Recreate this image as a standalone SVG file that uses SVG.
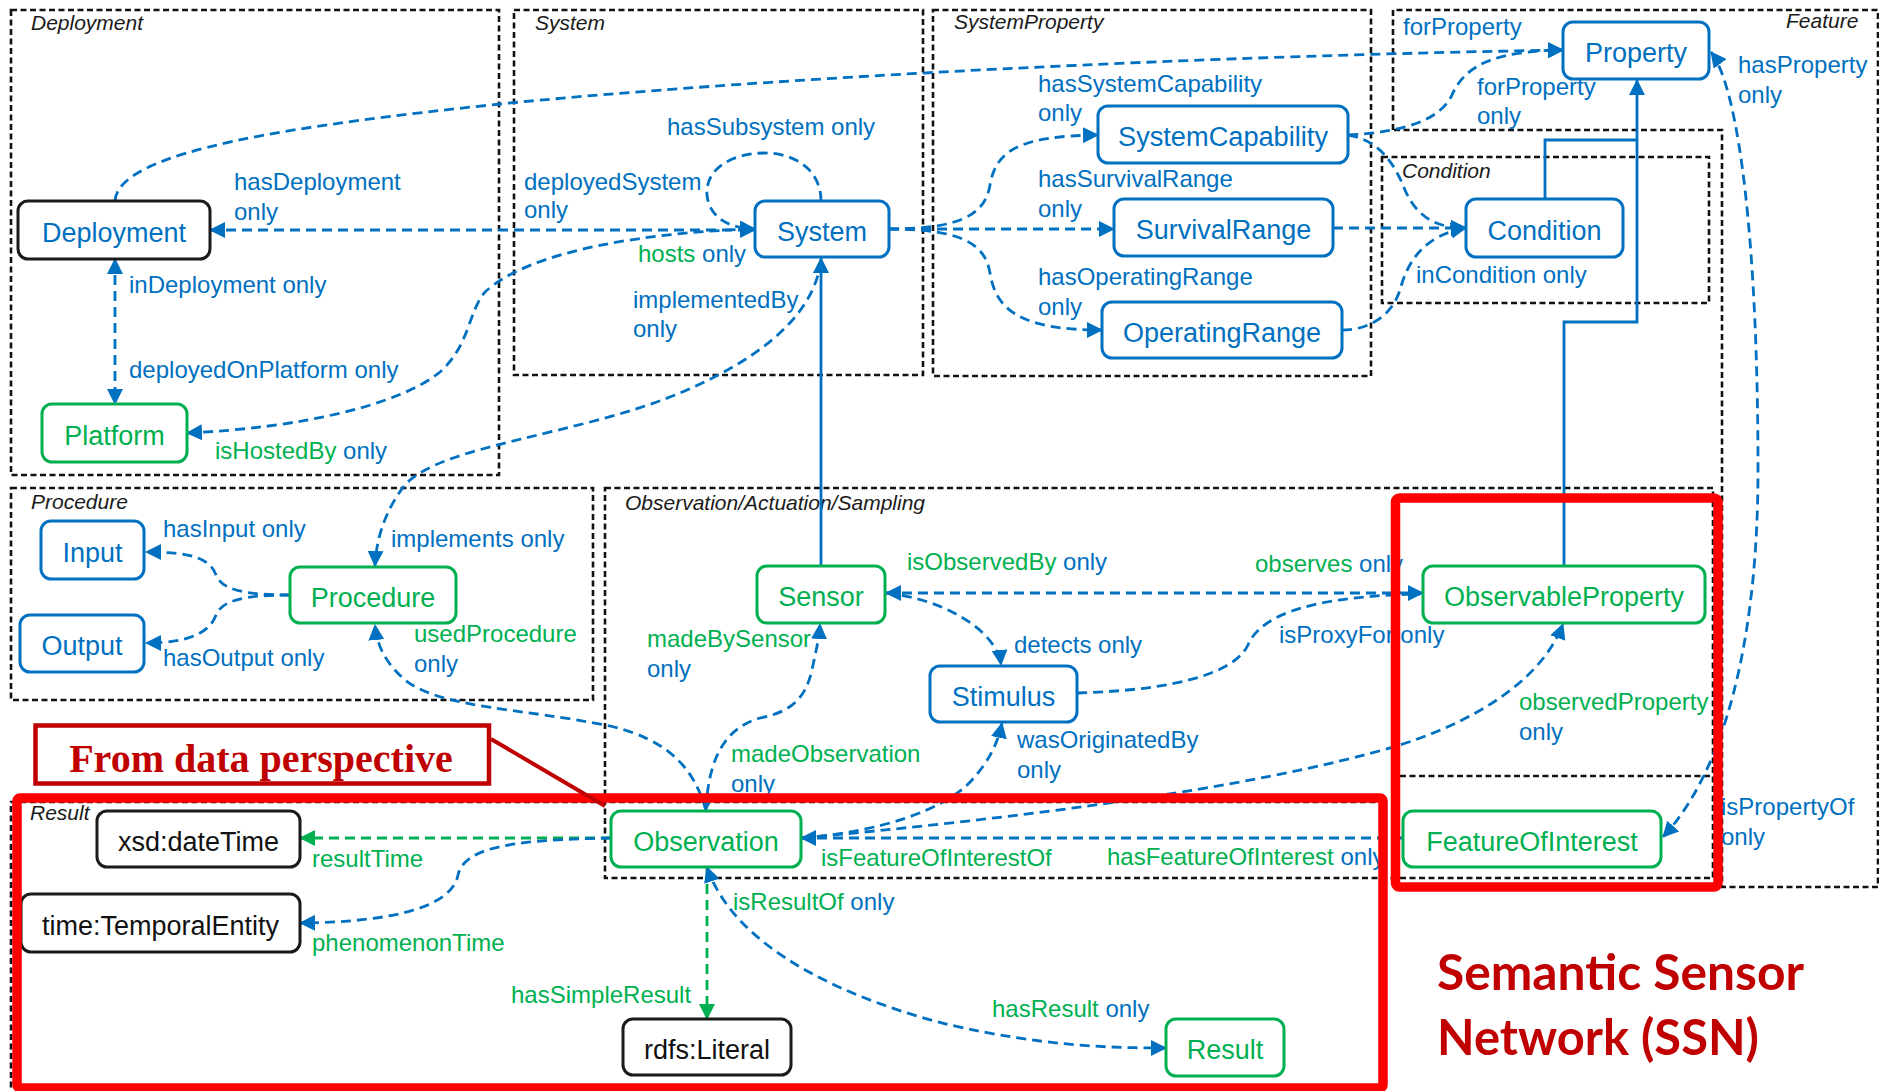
<svg xmlns="http://www.w3.org/2000/svg" width="1879" height="1091" viewBox="0 0 1879 1091">
  <style>
    text { font-family: "Liberation Sans", Arial, sans-serif; }
    .grp { fill: none; stroke: #111; stroke-width: 2.6; stroke-dasharray: 6 3.5; }
    .glabel { font-size: 21px; font-style: italic; fill: #1a1a1a; }
    .node rect { fill: #fff; stroke-width: 3; }
    .nb rect { stroke: #0070C0; }
    .ng rect { stroke: #00B050; }
    .nk rect { stroke: #1a1a1a; }
    .node text { font-size: 27px; text-anchor: middle; }
    .nb text { fill: #0070C0; }
    .ng text { fill: #00B050; }
    .nk text { fill: #111; }
    .lbl { font-size: 24px; fill: #0070C0; }
    .g { fill: #00B050; }
    .bl { fill: #0070C0; }
    .dash { fill: none; stroke: #0070C0; stroke-width: 2.8; stroke-dasharray: 10 6; }
    .gdash { fill: none; stroke: #00B050; stroke-width: 2.8; stroke-dasharray: 10 6; }
    .solid { fill: none; stroke: #0070C0; stroke-width: 2.8; }
    .hl { fill: none; stroke: #FF0000; stroke-width: 9.5; }
  </style>
  <defs>
    <marker id="ab" viewBox="0 0 16 16" refX="15" refY="8" markerWidth="16" markerHeight="16" markerUnits="userSpaceOnUse" orient="auto-start-reverse">
      <path d="M0,0 L16,8 L0,16 z" fill="#0070C0"/>
    </marker>
    <marker id="ag" viewBox="0 0 16 16" refX="15" refY="8" markerWidth="16" markerHeight="16" markerUnits="userSpaceOnUse" orient="auto-start-reverse">
      <path d="M0,0 L16,8 L0,16 z" fill="#00B050"/>
    </marker>
  </defs>
  <rect width="1879" height="1091" fill="#fff"/>

  <!-- module boundaries -->
  <g id="groups">
    <rect class="grp" x="11" y="10" width="488" height="465"/>
    <rect class="grp" x="514" y="10" width="409" height="365"/>
    <rect class="grp" x="933" y="10" width="438" height="366"/>
    <path class="grp" d="M1393,130 V10 H1878 V887 H1722 V130 Z"/>
    <rect class="grp" x="1382" y="157" width="327" height="146"/>
    <rect class="grp" x="11" y="488" width="582" height="212"/>
    <rect class="grp" x="605" y="488" width="1108" height="390"/>
    <path class="grp" d="M1400,776 H1713"/>
    <rect class="grp" x="11" y="802" width="1372" height="286"/>
    <text class="glabel" x="31" y="30">Deployment</text>
    <text class="glabel" x="535" y="30">System</text>
    <text class="glabel" x="954" y="29">SystemProperty</text>
    <text class="glabel" x="1786" y="28">Feature</text>
    <text class="glabel" x="1402" y="178">Condition</text>
    <text class="glabel" x="31" y="509">Procedure</text>
    <text class="glabel" x="625" y="510">Observation/Actuation/Sampling</text>
    <text class="glabel" x="30" y="820">Result</text>
  </g>

  <!-- relations -->
  <g id="connectors">
    <path class="dash" d="M115,201 C118,150 300,125 500,104 C700,84 1100,58 1563,50" marker-end="url(#ab)"/>
    <path class="dash" d="M210,230 L755,230" marker-start="url(#ab)" marker-end="url(#ab)"/>
    <path class="dash" d="M115,259 L115,404" marker-start="url(#ab)" marker-end="url(#ab)"/>
    <path class="dash" d="M187,433 C300,428 400,405 440,372 C470,345 468,312 485,292 C530,250 650,232 755,229" marker-start="url(#ab)" marker-end="url(#ab)"/>
    <path class="dash" d="M821,201 C821,170 795,153 765,153 C730,153 705,170 707,195 C709,215 725,228 755,229" marker-end="url(#ab)"/>
    <path class="dash" d="M821,260 C815,310 770,355 680,393 C580,435 440,445 405,485 C385,510 376,540 375,566" marker-end="url(#ab)"/>
    <path class="solid" d="M821,566 L821,258" marker-end="url(#ab)"/>

    <path class="dash" d="M889,229 L1114,229" marker-end="url(#ab)"/>
    <path class="dash" d="M889,229 C960,229 985,215 990,185 C996,150 1020,136 1098,135" marker-end="url(#ab)"/>
    <path class="dash" d="M889,229 C960,229 985,243 990,273 C996,310 1020,330 1102,330" marker-end="url(#ab)"/>

    <path class="dash" d="M1348,135 C1405,132 1440,120 1452,95 C1465,65 1495,51 1563,50" marker-end="url(#ab)"/>
    <path class="dash" d="M1348,135 C1380,140 1395,165 1405,190 C1418,220 1440,228 1466,228" marker-end="url(#ab)"/>
    <path class="dash" d="M1333,228 L1466,228" marker-end="url(#ab)"/>
    <path class="dash" d="M1342,330 C1370,330 1392,315 1400,290 C1408,260 1425,235 1466,228" marker-end="url(#ab)"/>

    <path class="solid" d="M1545,199 V140 H1637"/>
    <path class="solid" d="M1564,566 V322 H1637 V80" marker-end="url(#ab)"/>
    <path class="dash" d="M1711,52 C1740,90 1758,250 1758,470 C1758,640 1725,770 1663,837" marker-start="url(#ab)" marker-end="url(#ab)"/>

    <path class="dash" d="M290,595 C245,595 222,590 216,575 C210,558 190,552 146,552" marker-end="url(#ab)"/>
    <path class="dash" d="M290,595 C245,595 222,600 216,615 C210,632 190,643 146,643" marker-end="url(#ab)"/>
    <path class="dash" d="M706,811 C695,770 670,740 610,726 C520,708 440,708 405,680 C388,665 377,648 375,625" marker-end="url(#ab)"/>

    <path class="dash" d="M706,810 C708,770 718,730 760,718 C790,712 805,700 812,670 C816,650 819,640 820,624" marker-start="url(#ab)" marker-end="url(#ab)"/>
    <path class="dash" d="M886,593 L1423,593" marker-start="url(#ab)" marker-end="url(#ab)"/>
    <path class="dash" d="M886,593 C930,598 965,615 985,635 C996,647 1000,655 1001,665" marker-end="url(#ab)"/>
    <path class="dash" d="M1077,693 C1180,690 1235,672 1248,645 C1262,612 1320,596 1420,594"/>
    <path class="dash" d="M801,838 C880,832 945,810 972,780 C990,760 998,742 1002,723" marker-end="url(#ab)"/>
    <path class="dash" d="M801,838 C1000,820 1250,790 1400,745 C1490,716 1545,672 1563,624" marker-end="url(#ab)"/>
    <path class="dash" d="M801,838 L1403,838" marker-start="url(#ab)"/>

    <path class="gdash" d="M611,838 L300,838" marker-end="url(#ag)"/>
    <path class="dash" d="M611,838 C520,840 465,845 458,875 C452,905 400,922 300,923" marker-end="url(#ab)"/>
    <path class="gdash" d="M707,868 L707,1019" marker-end="url(#ag)"/>
    <path class="dash" d="M707,867 C735,950 850,1000 950,1025 C1040,1045 1100,1048 1166,1048" marker-start="url(#ab)" marker-end="url(#ab)"/>
  </g>

  <!-- classes -->
  <g id="n-deployment" class="node nk"><rect x="18" y="201" width="192" height="58" rx="10"/><text x="114" y="242" style="fill:#0070C0">Deployment</text></g>
  <g id="n-platform" class="node ng"><rect x="42" y="404" width="145" height="58" rx="10"/><text x="114.5" y="445">Platform</text></g>
  <g id="n-system" class="node nb"><rect x="755" y="201" width="134" height="56" rx="10"/><text x="822" y="241">System</text></g>
  <g id="n-systemcapability" class="node nb"><rect x="1098" y="106" width="250" height="57" rx="10"/><text x="1223" y="146" textLength="210" lengthAdjust="spacingAndGlyphs">SystemCapability</text></g>
  <g id="n-survivalrange" class="node nb"><rect x="1114" y="199" width="219" height="57" rx="10"/><text x="1223.5" y="239">SurvivalRange</text></g>
  <g id="n-operatingrange" class="node nb"><rect x="1102" y="302" width="240" height="56" rx="10"/><text x="1222" y="342">OperatingRange</text></g>
  <g id="n-condition" class="node nb"><rect x="1466" y="199" width="157" height="58" rx="10"/><text x="1544.5" y="240">Condition</text></g>
  <g id="n-property" class="node nb"><rect x="1563" y="22" width="146" height="57" rx="10"/><text x="1636" y="62">Property</text></g>
  <g id="n-input" class="node nb"><rect x="41" y="521" width="103" height="58" rx="10"/><text x="92.5" y="562">Input</text></g>
  <g id="n-output" class="node nb"><rect x="20" y="615" width="124" height="57" rx="10"/><text x="82" y="655">Output</text></g>
  <g id="n-procedure" class="node ng"><rect x="290" y="567" width="166" height="56" rx="10"/><text x="373" y="607">Procedure</text></g>
  <g id="n-sensor" class="node ng"><rect x="757" y="566" width="128" height="57" rx="10"/><text x="821" y="606">Sensor</text></g>
  <g id="n-stimulus" class="node nb"><rect x="930" y="666" width="147" height="56" rx="10"/><text x="1003.5" y="706">Stimulus</text></g>
  <g id="n-observableproperty" class="node ng"><rect x="1423" y="566" width="282" height="57" rx="10"/><text x="1564" y="606">ObservableProperty</text></g>
  <g id="n-featureofinterest" class="node ng"><rect x="1403" y="811" width="258" height="56" rx="10"/><text x="1532" y="851">FeatureOfInterest</text></g>
  <g id="n-observation" class="node ng"><rect x="611" y="811" width="190" height="56" rx="10"/><text x="706" y="851">Observation</text></g>
  <g id="n-datetime" class="node nk"><rect x="97" y="811" width="203" height="56" rx="10"/><text x="198.5" y="851">xsd:dateTime</text></g>
  <g id="n-temporalentity" class="node nk"><rect x="21" y="894" width="279" height="58" rx="10"/><text x="160.5" y="935">time:TemporalEntity</text></g>
  <g id="n-literal" class="node nk"><rect x="623" y="1019" width="168" height="56" rx="10"/><text x="707" y="1059">rdfs:Literal</text></g>
  <g id="n-result" class="node ng"><rect x="1166" y="1019" width="118" height="57" rx="10"/><text x="1225" y="1059">Result</text></g>

  <!-- relation labels -->
  <g id="labels" class="lbl">
    <text x="234" y="190">hasDeployment</text><text x="234" y="220">only</text>
    <text x="129" y="293">inDeployment only</text>
    <text x="129" y="378">deployedOnPlatform only</text>
    <text x="215" y="459"><tspan class="g">isHostedBy</tspan> only</text>
    <text x="667" y="135">hasSubsystem only</text>
    <text x="524" y="190">deployedSystem</text><text x="524" y="218">only</text>
    <text x="638" y="262"><tspan class="g">hosts</tspan> only</text>
    <text x="633" y="308">implementedBy</text><text x="633" y="337">only</text>
    <text x="1038" y="92">hasSystemCapability</text><text x="1038" y="121">only</text>
    <text x="1038" y="187">hasSurvivalRange</text><text x="1038" y="217">only</text>
    <text x="1038" y="285">hasOperatingRange</text><text x="1038" y="315">only</text>
    <text x="1403" y="35">forProperty</text>
    <text x="1477" y="95">forProperty</text><text x="1477" y="124">only</text>
    <text x="1738" y="73">hasProperty</text><text x="1738" y="103">only</text>
    <text x="1416" y="283">inCondition only</text>
    <text x="163" y="537">hasInput only</text>
    <text x="163" y="666">hasOutput only</text>
    <text x="391" y="547">implements only</text>
    <text x="414" y="642" class="g">usedProcedure</text><text x="414" y="672">only</text>
    <text x="907" y="570"><tspan class="g">isObservedBy</tspan> only</text>
    <text x="1255" y="572"><tspan class="g">observes</tspan> only</text>
    <text x="647" y="647" class="g">madeBySensor</text><text x="647" y="677">only</text>
    <text x="1014" y="653">detects only</text>
    <text x="1279" y="643">isProxyFor only</text>
    <text x="731" y="762" class="g">madeObservation</text><text x="731" y="792">only</text>
    <text x="1017" y="748">wasOriginatedBy</text><text x="1017" y="778">only</text>
    <text x="1519" y="710" class="g">observedProperty</text><text x="1519" y="740">only</text>
    <text x="821" y="866" class="g">isFeatureOfInterestOf</text>
    <text x="1107" y="865"><tspan class="g">hasFeatureOfInterest</tspan> only</text>
    <text x="1721" y="815">isPropertyOf</text><text x="1721" y="845">only</text>
    <text x="312" y="867" class="g">resultTime</text>
    <text x="312" y="951" class="g">phenomenonTime</text>
    <text x="733" y="910"><tspan class="g">isResultOf</tspan> only</text>
    <text x="511" y="1003" class="g">hasSimpleResult</text>
    <text x="992" y="1017"><tspan class="g">hasResult</tspan> only</text>
  </g>

  <!-- highlight frames and captions -->
  <g id="highlights">
    <rect class="hl" x="17" y="798" width="1366" height="290" rx="3"/>
    <rect class="hl" x="1395.5" y="498" width="322.5" height="389" rx="4"/>
    <path d="M491,739 L605,806" stroke="#C00000" stroke-width="4" fill="none"/>
    <rect x="35.5" y="725.5" width="453.5" height="58" fill="#fff" stroke="#C00000" stroke-width="4.5"/>
    <text x="261" y="772" text-anchor="middle" style="font-family:'Liberation Serif','Times New Roman',serif;font-weight:bold;font-size:40px;fill:#C00000">From data perspective</text>
    <text x="1437" y="990" textLength="367" lengthAdjust="spacingAndGlyphs" style="font-family:Lato,'Liberation Sans',sans-serif;font-weight:bold;font-size:50px;fill:#C00000">Semantic Sensor</text>
    <text x="1437" y="1055" textLength="322" lengthAdjust="spacingAndGlyphs" style="font-family:Lato,'Liberation Sans',sans-serif;font-weight:bold;font-size:50px;fill:#C00000">Network (SSN)</text>
  </g>
</svg>
